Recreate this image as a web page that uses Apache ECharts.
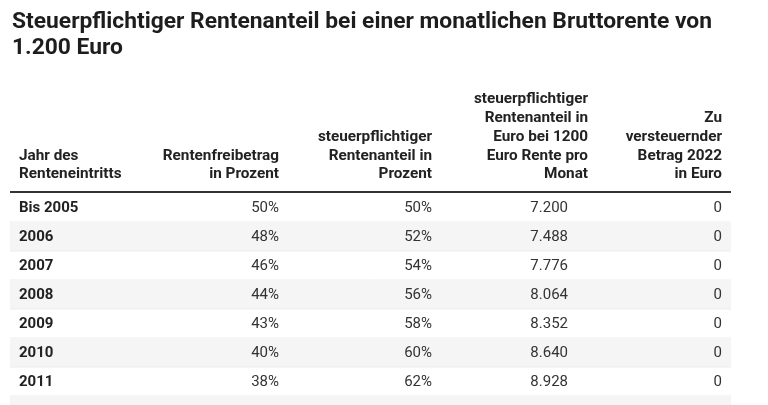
<!DOCTYPE html>
<html><head><meta charset="utf-8">
<script src="https://cdn.jsdelivr.net/npm/echarts@6/dist/echarts.min.js"></script>
<style>html,body{margin:0;padding:0;background:#fff}#c{width:768px;height:405px}</style>
</head><body><div id="c"></div>
<script>
const titleText = 'Steuerpflichtiger Rentenanteil bei einer monatlichen Bruttorente von\n1.200 Euro';
const headers = [
  'Jahr des\nRenteneintritts',
  'Rentenfreibetrag\nin Prozent',
  'steuerpflichtiger\nRentenanteil in\nProzent',
  'steuerpflichtiger\nRentenanteil in\nEuro bei 1200\nEuro Rente pro\nMonat',
  'Zu\nversteuernder\nBetrag 2022\nin Euro'
];
const years = ['Bis 2005','2006','2007','2008','2009','2010','2011'];
const freibetrag = [50,48,46,44,43,40,38];
const steuerAnteil = [50,52,54,56,58,60,62];
const euroAnteil = [7200,7488,7776,8064,8352,8640,8928];
const zuVersteuern = [0,0,0,0,0,0,0];

// layout (not data)
const FONT = 'Roboto, "Noto Sans", sans-serif';
const colX = [19, 279, 432, 568, 722];
const headX = [19, 279, 432, 588, 722];
const tableLeft = 10, tableRight = 731;
const rowCount = years.length + 1; // one more (partially visible) row
const fmtDE = v => v.toString().replace(/\B(?=(\d{3})+(?!\d))/g, '.');

const cats = years.concat(['']);
const chart = echarts.init(document.getElementById('c'), null, {renderer:'canvas'});

const headerGraphics = headers.map((h, i) => ({
  type: 'text',
  x: headX[i], y: 184,
  style: {
    text: h, font: 'bold 15.3px ' + FONT, fill: '#222',
    align: i === 0 ? 'left' : 'right', verticalAlign: 'bottom', lineHeight: 18.75
  }
}));

chart.setOption({
  animation: false,
  title: {
    text: titleText, left: 12, top: 9, padding: 0,
    textStyle: {fontFamily: FONT, fontSize: 22.8, fontWeight: 'bold', color: '#1d1d1d', lineHeight: 26}
  },
  grid: {left: 0, right: 0, top: 193, height: rowCount * 29, outerBoundsMode: 'none', containLabel: false},
  xAxis: {type: 'value', min: 0, max: 768, show: false},
  yAxis: {type: 'category', data: cats, inverse: true, show: false},
  graphic: headerGraphics.concat([{
    type: 'rect', shape: {x: tableLeft, y: 191, width: tableRight - tableLeft, height: 2},
    style: {fill: '#333'}
  }]),
  series: [{
    type: 'custom',
    clip: false,
    data: cats.map((c, i) => [i]),
    encode: {y: 0},
    renderItem: function (params, api) {
      const i = api.value(0);
      const h = api.size([0, 1])[1];
      const p0 = api.coord([tableLeft, i]);
      const p1 = api.coord([tableRight, i]);
      const cy = p0[1];
      const children = [];
      if (i % 2 === 1) {
        children.push({type: 'rect', shape: {x: p0[0], y: cy - h / 2, width: p1[0] - p0[0], height: h},
          style: {fill: '#f5f5f5'}});
      }
      children.push({type: 'line', shape: {x1: p0[0], y1: cy + h / 2, x2: p1[0], y2: cy + h / 2},
        style: {stroke: '#ececec', lineWidth: 1}});
      if (i < years.length) {
        const vals = [years[i], freibetrag[i] + '%', steuerAnteil[i] + '%', fmtDE(euroAnteil[i]), String(zuVersteuern[i])];
        vals.forEach((v, k) => {
          const pt = api.coord([colX[k], i]);
          children.push({type: 'text', x: pt[0], y: pt[1] + 0.5,
            style: {text: v, font: (k === 0 ? 'bold ' : '') + '15px ' + FONT,
              fill: k === 0 ? '#222' : '#333', align: k === 0 ? 'left' : 'right', verticalAlign: 'middle'}});
        });
      }
      return {type: 'group', children: children};
    }
  }]
});
</script></body></html>
